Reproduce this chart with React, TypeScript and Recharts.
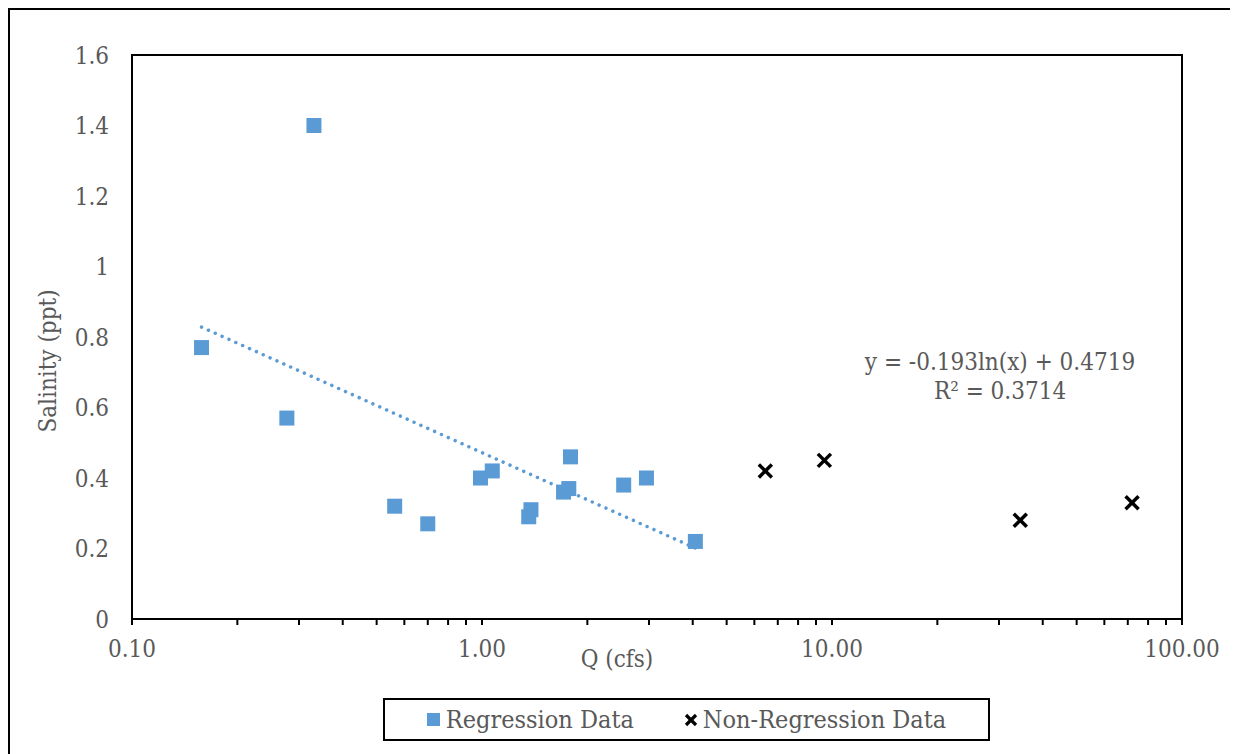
import React from 'react';
import { ScatterChart, Scatter, XAxis, YAxis, ReferenceArea } from 'recharts';

const regQ = [0.158, 0.277, 0.331, 0.563, 0.70, 0.99, 1.07, 1.36, 1.38, 1.71, 1.77, 1.79, 2.54, 2.95, 4.07];
const regSal = [0.77, 0.57, 1.40, 0.32, 0.27, 0.40, 0.42, 0.29, 0.31, 0.36, 0.37, 0.46, 0.38, 0.40, 0.22];
const nonRegQ = [6.45, 9.51, 34.5, 72.0];
const nonRegSal = [0.42, 0.45, 0.28, 0.33];
const trendQ = [0.158, 4.07];
const trendSal = [0.828, 0.201];

const xMajorTicks = [0.1, 1, 10, 100];
const xMajorLabels = ['0.10', '1.00', '10.00', '100.00'];
const xMinorTicks = [0.2, 0.3, 0.4, 0.5, 0.6, 0.7, 0.8, 0.9, 2, 3, 4, 5, 6, 7, 8, 9, 20, 30, 40, 50, 60, 70, 80, 90];
const yTicks = [0, 0.2, 0.4, 0.6, 0.8, 1, 1.2, 1.4, 1.6];

const regData = regQ.map((q, i) => ({ x: q, y: regSal[i] }));
const nonRegData = nonRegQ.map((q, i) => ({ x: q, y: nonRegSal[i] }));
const trendData = trendQ.map((q, i) => ({ x: q, y: trendSal[i] }));
const allXTicks = [...xMajorTicks, ...xMinorTicks].sort((a, b) => a - b);

const FONT = "'DejaVu Serif Condensed', 'DejaVu Serif', serif";
const FS = 24;
const TEXT = '#595959';
const BLUE = '#5B9BD5';

const XTick = (props: any) => {
  const { x, y, payload } = props;
  const idx = xMajorTicks.indexOf(payload.value);
  return (
    <g>
      <line x1={x} y1={y} x2={x} y2={y + 6} stroke="#000" strokeWidth={2} />
      {idx >= 0 && (
        <text x={x} y={y + 38} textAnchor="middle" fill={TEXT} fontFamily={FONT} fontSize={FS}>
          {xMajorLabels[idx]}
        </text>
      )}
    </g>
  );
};

const SquareShape = (props: any) => {
  const { cx, cy } = props;
  return <rect x={cx - 7.5} y={cy - 7.5} width={15} height={15} fill={BLUE} />;
};

const CrossShape = (props: any) => {
  const { cx, cy } = props;
  const s = 6.5;
  return (
    <g stroke="#000" strokeWidth={3.5}>
      <line x1={cx - s} y1={cy - s} x2={cx + s} y2={cy + s} />
      <line x1={cx - s} y1={cy + s} x2={cx + s} y2={cy - s} />
    </g>
  );
};

const NoShape = () => <g />;

export default function App() {
  return (
    <div style={{ position: 'relative', width: 1230, height: 746 }}>
      <div
        style={{
          position: 'absolute', left: 0, top: 0, width: 1230, height: 760,
          border: '2px solid #000', boxSizing: 'border-box', background: '#fff',
        }}
      />
      <div style={{ position: 'absolute', left: 0, top: 0 }}>
        <ScatterChart width={1230} height={746} margin={{ top: 47, right: 56, bottom: 75, left: 64 }}>
          <XAxis
            type="number"
            dataKey="x"
            scale="log"
            domain={[0.1, 100]}
            allowDataOverflow
            ticks={allXTicks}
            interval={0}
            tick={<XTick />}
            tickLine={false}
            tickSize={0}
            tickMargin={0}
            height={60}
            axisLine={{ stroke: '#000', strokeWidth: 2 }}
            label={{
              content: (p: any) => {
                const vb = p.viewBox;
                return (
                  <text x={vb.x + vb.width / 2 - 40} y={vb.y + 48} textAnchor="middle" fill={TEXT} fontFamily={FONT} fontSize={FS}>
                    Q (cfs)
                  </text>
                );
              },
            }}
          />
          <YAxis
            type="number"
            dataKey="y"
            domain={[0, 1.6]}
            ticks={yTicks}
            interval={0}
            width={60}
            tickLine={false}
            tickSize={0}
            tickMargin={23}
            axisLine={{ stroke: '#000', strokeWidth: 2 }}
            tick={{ fill: TEXT, fontFamily: FONT, fontSize: FS }}
            label={{
              content: (p: any) => {
                const vb = p.viewBox;
                const cx = vb.x - 24;
                const cy = vb.y + vb.height / 2 + 24;
                return (
                  <text x={cx} y={cy} transform={`rotate(-90 ${cx} ${cy})`} textAnchor="middle" dominantBaseline="central" fill={TEXT} fontFamily={FONT} fontSize={FS}>
                    Salinity (ppt)
                  </text>
                );
              },
            }}
          />
          <ReferenceArea x1={0.1} x2={100} y1={0} y2={1.6} fill="none" fillOpacity={0} stroke="#000" strokeWidth={2} ifOverflow="visible" />
          <Scatter name="Regression Data" data={regData} shape={<SquareShape />} fill={BLUE} isAnimationActive={false} />
          <Scatter name="Non-Regression Data" data={nonRegData} shape={<CrossShape />} fill="#000" isAnimationActive={false} />
          <Scatter
            name="Trend"
            data={trendData}
            shape={<NoShape />}
            fill={BLUE}
            line={{ stroke: BLUE, strokeWidth: 3.5, strokeDasharray: '0.01 7.5', strokeLinecap: 'round' }}
            isAnimationActive={false}
          />
        </ScatterChart>
      </div>
      <div
        style={{
          position: 'absolute', left: 992, top: 340, width: 400, transform: 'translateX(-50%)',
          textAlign: 'center', color: TEXT, fontFamily: FONT, fontSize: FS, lineHeight: '29px', whiteSpace: 'nowrap',
        }}
      >
        <div>y = -0.193ln(x) + 0.4719</div>
        <div>R² = 0.3714</div>
      </div>
      <div
        style={{
          position: 'absolute', left: 375, top: 690, width: 607, height: 43, boxSizing: 'border-box',
          border: '2px solid #000', background: '#fff', display: 'flex', alignItems: 'center', justifyContent: 'center',
          color: TEXT, fontFamily: FONT, fontSize: 25, whiteSpace: 'nowrap',
        }}
      >
        <span style={{ display: 'inline-block', width: 13, height: 13, background: BLUE, marginRight: 6 }} />
        <span>Regression Data</span>
        <svg width={14} height={14} style={{ marginLeft: 50, marginRight: 5 }}>
          <g stroke="#000" strokeWidth={3.2}>
            <line x1={2} y1={2} x2={12} y2={12} />
            <line x1={2} y1={12} x2={12} y2={2} />
          </g>
        </svg>
        <span>Non-Regression Data</span>
      </div>
    </div>
  );
}
